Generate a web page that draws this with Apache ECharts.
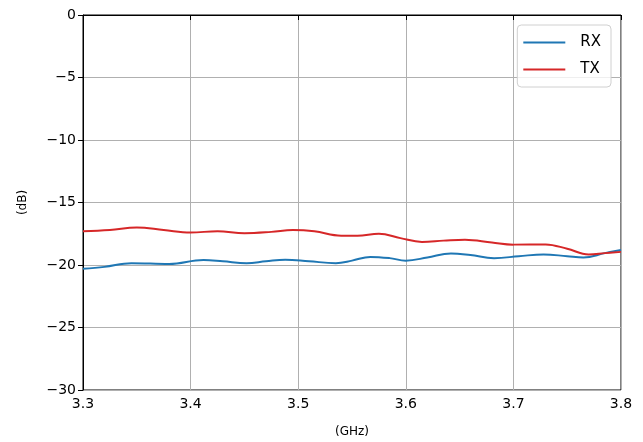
<!DOCTYPE html>
<html>
<head>
<meta charset="utf-8">
<script src="https://cdn.jsdelivr.net/npm/echarts@6/dist/echarts.min.js"></script>
<style>
  html, body { margin: 0; padding: 0; background: #fff; }
  #chart { width: 643px; height: 442px; }
</style>
</head>
<body>
<div id="chart"></div>
<script>
// Frequency sweep (GHz) and measured levels (dB)
const rxFreq = [3.300, 3.320, 3.345, 3.380, 3.412, 3.430, 3.452, 3.470, 3.488, 3.510, 3.535, 3.550, 3.567, 3.585, 3.600, 3.620, 3.642, 3.660, 3.682, 3.705, 3.728, 3.750, 3.765, 3.785, 3.800];
const rxDb   = [-20.3, -20.15, -19.85, -19.92, -19.6, -19.7, -19.85, -19.7, -19.57, -19.7, -19.85, -19.65, -19.35, -19.45, -19.65, -19.4, -19.07, -19.2, -19.45, -19.3, -19.15, -19.3, -19.4, -19.05, -18.8];
const txFreq = [3.300, 3.325, 3.350, 3.375, 3.400, 3.425, 3.450, 3.475, 3.495, 3.515, 3.540, 3.555, 3.575, 3.595, 3.615, 3.635, 3.655, 3.680, 3.700, 3.730, 3.750, 3.770, 3.785, 3.800];
const txDb   = [-17.3, -17.2, -17.0, -17.2, -17.4, -17.3, -17.45, -17.35, -17.2, -17.3, -17.65, -17.65, -17.5, -17.85, -18.15, -18.05, -17.97, -18.2, -18.37, -18.35, -18.7, -19.15, -19.05, -18.95];
const xTicks = [3.3, 3.4, 3.5, 3.6, 3.7, 3.8];
const seriesNames = ['RX', 'TX'];

const pairs = (xs, ys) => xs.map((x, i) => [x, ys[i]]);
const font = 'DejaVu Sans';

const chart = echarts.init(document.getElementById('chart'), null, { renderer: 'canvas' });
chart.setOption({
  animation: false,
  backgroundColor: '#fff',
  textStyle: { fontFamily: font },
  grid: {
    left: 83, right: 22, top: 15, bottom: 52,
    containLabel: false, outerBoundsMode: 'none',
    show: true, borderColor: '#000', borderWidth: 1, backgroundColor: 'transparent'
  },
  legend: {
    data: seriesNames,
    orient: 'vertical',
    right: 32, top: 25,
    icon: 'rect',
    itemWidth: 42, itemHeight: 2,
    itemGap: 12,
    padding: [10, 10, 10, 6],
    backgroundColor: 'rgba(255,255,255,0.8)',
    borderColor: '#d0d0d0', borderWidth: 1, borderRadius: 4,
    textStyle: { fontFamily: font, fontSize: 15, color: '#000', padding: [0, 0, 0, 10] }
  },
  xAxis: {
    type: 'value',
    min: 3.3, max: 3.8, interval: 0.1,
    name: '(GHz)', nameLocation: 'middle', nameGap: 36,
    nameTextStyle: { fontFamily: font, fontSize: 12, color: '#000' },
    axisLine: { show: true, lineStyle: { color: '#000', width: 1 } },
    axisTick: { show: true, length: 5, lineStyle: { color: '#000' } },
    axisLabel: {
      fontFamily: font, fontSize: 14, color: '#000', margin: 7,
      formatter: v => { const t = xTicks.find(x => Math.abs(x - v) < 1e-6); return t !== undefined ? t.toFixed(1) : ''; }
    },
    splitLine: { show: true, lineStyle: { color: '#b0b0b0', width: 1 } }
  },
  yAxis: {
    type: 'value',
    min: -30, max: 0, interval: 5,
    name: '(dB)', nameLocation: 'middle', nameGap: 54, nameRotate: 90,
    nameTextStyle: { fontFamily: font, fontSize: 12, color: '#000' },
    axisLine: { show: true, lineStyle: { color: '#000', width: 1 } },
    axisTick: { show: true, length: 5, lineStyle: { color: '#000' } },
    axisLabel: {
      fontFamily: font, fontSize: 14, color: '#000', margin: 7,
      formatter: v => String(v).replace('-', '\u2212')
    },
    splitLine: { show: true, lineStyle: { color: '#b0b0b0', width: 1 } }
  },
  series: [
    {
      name: seriesNames[0], type: 'line', data: pairs(rxFreq, rxDb),
      smooth: 0.4, showSymbol: false, symbol: 'none',
      lineStyle: { color: '#1f77b4', width: 2 }, itemStyle: { color: '#1f77b4' }
    },
    {
      name: seriesNames[1], type: 'line', data: pairs(txFreq, txDb),
      smooth: 0.4, showSymbol: false, symbol: 'none',
      lineStyle: { color: '#d62728', width: 2 }, itemStyle: { color: '#d62728' }
    }
  ]
});
</script>
</body>
</html>
